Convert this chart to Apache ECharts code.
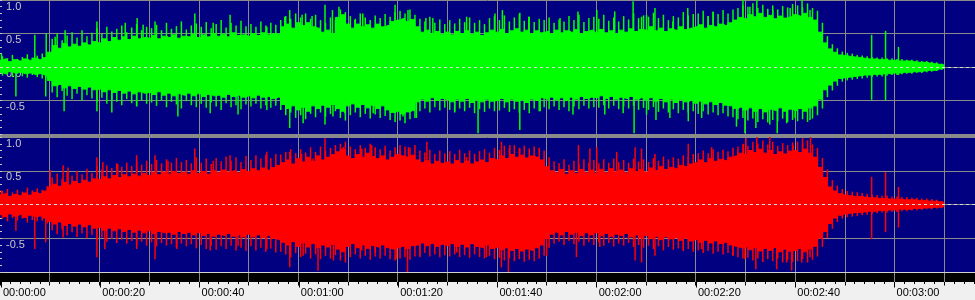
<!DOCTYPE html>
<html>
<head>
<meta charset="utf-8">
<script src="https://cdn.jsdelivr.net/npm/echarts@6/dist/echarts.min.js"></script>
<style>html,body{margin:0;padding:0;background:#f0f0f0;}#c{width:975px;height:300px;}</style>
</head>
<body>
<div id="c"></div>
<script>
// ---- data: dense envelope per second, t = 0..190 s ----
const greenUpper = [
0.10,0.12,0.08,0.11,0.09,0.12,0.10,0.13,0.11,0.14,
0.22,0.32,0.28,0.35,0.30,0.34,0.31,0.36,0.33,0.38,
0.36,0.42,0.38,0.44,0.40,0.45,0.41,0.46,0.42,0.44,
0.43,0.47,0.42,0.46,0.44,0.48,0.43,0.46,0.45,0.49,
0.44,0.48,0.45,0.50,0.46,0.49,0.45,0.51,0.47,0.48,
0.46,0.50,0.47,0.51,0.48,0.50,0.49,0.60,0.64,0.58,
0.66,0.62,0.66,0.60,0.58,0.52,0.55,0.50,0.74,0.78,
0.64,0.58,0.64,0.60,0.63,0.58,0.64,0.60,0.62,0.68,
0.70,0.72,0.68,0.71,0.60,0.52,0.55,0.50,0.53,0.49,
0.52,0.48,0.53,0.50,0.54,0.49,0.52,0.47,0.51,0.55,
0.52,0.56,0.50,0.54,0.57,0.52,0.55,0.50,0.54,0.51,
0.53,0.50,0.55,0.51,0.54,0.52,0.56,0.50,0.53,0.55,
0.52,0.56,0.51,0.54,0.50,0.55,0.52,0.57,0.53,0.56,
0.55,0.60,0.54,0.58,0.53,0.57,0.55,0.60,0.56,0.58,
0.60,0.63,0.58,0.62,0.60,0.64,0.62,0.66,0.70,0.74,
0.72,0.78,0.75,0.80,0.74,0.77,0.72,0.76,0.73,0.75,
0.78,0.76,0.80,0.74,0.70,0.52,0.36,0.27,0.22,0.18,
0.17,0.16,0.15,0.14,0.13,0.12,0.12,0.11,0.11,0.10,
0.10,0.09,0.09,0.09,0.08,0.07,0.07,0.06,0.05,0.04,
0.03];
const greenLower = [
-0.08,-0.10,-0.07,-0.09,-0.08,-0.10,-0.09,-0.11,-0.10,-0.12,
-0.20,-0.28,-0.26,-0.31,-0.28,-0.32,-0.29,-0.33,-0.30,-0.34,
-0.33,-0.37,-0.34,-0.38,-0.35,-0.39,-0.36,-0.40,-0.37,-0.39,
-0.38,-0.41,-0.37,-0.42,-0.39,-0.43,-0.40,-0.42,-0.39,-0.43,
-0.40,-0.44,-0.41,-0.43,-0.42,-0.45,-0.41,-0.44,-0.42,-0.45,
-0.43,-0.46,-0.42,-0.45,-0.44,-0.47,-0.45,-0.56,-0.62,-0.58,
-0.64,-0.60,-0.66,-0.58,-0.62,-0.57,-0.60,-0.56,-0.62,-0.66,
-0.58,-0.55,-0.60,-0.56,-0.61,-0.57,-0.62,-0.58,-0.64,-0.68,
-0.66,-0.70,-0.67,-0.65,-0.52,-0.48,-0.51,-0.46,-0.50,-0.47,
-0.49,-0.52,-0.48,-0.51,-0.47,-0.53,-0.49,-0.52,-0.48,-0.51,
-0.50,-0.47,-0.52,-0.48,-0.51,-0.49,-0.53,-0.48,-0.50,-0.46,
-0.48,-0.45,-0.49,-0.46,-0.50,-0.45,-0.48,-0.44,-0.47,-0.45,
-0.46,-0.43,-0.47,-0.44,-0.48,-0.45,-0.47,-0.44,-0.48,-0.46,
-0.49,-0.46,-0.51,-0.47,-0.52,-0.48,-0.53,-0.49,-0.52,-0.50,
-0.54,-0.51,-0.55,-0.52,-0.56,-0.53,-0.57,-0.58,-0.62,-0.60,
-0.64,-0.61,-0.66,-0.62,-0.67,-0.63,-0.65,-0.61,-0.66,-0.63,
-0.65,-0.62,-0.66,-0.61,-0.58,-0.48,-0.34,-0.27,-0.21,-0.17,
-0.16,-0.15,-0.14,-0.13,-0.12,-0.12,-0.11,-0.11,-0.10,-0.10,
-0.09,-0.09,-0.08,-0.08,-0.07,-0.07,-0.06,-0.05,-0.05,-0.03,
-0.02];
const redUpper = [
0.14,0.16,0.12,0.15,0.13,0.17,0.14,0.18,0.16,0.20,
0.26,0.30,0.27,0.33,0.29,0.34,0.31,0.36,0.33,0.38,
0.37,0.41,0.38,0.43,0.40,0.44,0.41,0.45,0.42,0.46,
0.43,0.47,0.44,0.48,0.45,0.49,0.46,0.48,0.45,0.50,
0.46,0.49,0.45,0.50,0.47,0.51,0.48,0.50,0.47,0.52,
0.49,0.53,0.50,0.54,0.51,0.55,0.58,0.62,0.66,0.60,
0.68,0.63,0.70,0.64,0.72,0.66,0.70,0.74,0.78,0.82,
0.72,0.68,0.74,0.70,0.76,0.71,0.68,0.72,0.66,0.70,
0.74,0.72,0.70,0.73,0.66,0.62,0.65,0.60,0.64,0.61,
0.63,0.60,0.65,0.61,0.64,0.60,0.63,0.66,0.62,0.68,
0.66,0.72,0.68,0.74,0.70,0.73,0.69,0.72,0.70,0.66,
0.56,0.50,0.47,0.52,0.45,0.50,0.46,0.52,0.47,0.51,
0.46,0.52,0.47,0.53,0.48,0.51,0.47,0.53,0.49,0.52,
0.48,0.54,0.50,0.56,0.52,0.55,0.53,0.58,0.56,0.60,
0.62,0.66,0.62,0.68,0.64,0.67,0.65,0.70,0.72,0.76,
0.74,0.80,0.77,0.82,0.76,0.80,0.74,0.78,0.75,0.79,
0.80,0.77,0.82,0.76,0.70,0.55,0.40,0.26,0.20,0.16,
0.14,0.13,0.12,0.12,0.11,0.10,0.10,0.09,0.09,0.08,
0.08,0.08,0.07,0.07,0.07,0.06,0.06,0.05,0.05,0.04,
0.03];
const redLower = [
-0.15,-0.18,-0.14,-0.17,-0.15,-0.19,-0.16,-0.18,-0.17,-0.20,
-0.25,-0.29,-0.26,-0.31,-0.28,-0.32,-0.29,-0.33,-0.30,-0.35,
-0.34,-0.38,-0.35,-0.39,-0.36,-0.40,-0.37,-0.41,-0.38,-0.42,
-0.39,-0.43,-0.40,-0.42,-0.41,-0.44,-0.40,-0.43,-0.41,-0.45,
-0.42,-0.46,-0.43,-0.47,-0.44,-0.46,-0.43,-0.47,-0.45,-0.48,
-0.44,-0.48,-0.45,-0.49,-0.46,-0.50,-0.52,-0.56,-0.60,-0.55,
-0.62,-0.57,-0.63,-0.58,-0.64,-0.60,-0.63,-0.59,-0.66,-0.70,
-0.62,-0.58,-0.64,-0.60,-0.65,-0.61,-0.63,-0.60,-0.64,-0.66,
-0.64,-0.62,-0.65,-0.61,-0.60,-0.57,-0.61,-0.58,-0.62,-0.59,
-0.61,-0.58,-0.62,-0.59,-0.63,-0.58,-0.62,-0.64,-0.60,-0.65,
-0.63,-0.67,-0.64,-0.68,-0.65,-0.69,-0.66,-0.68,-0.64,-0.60,
-0.50,-0.44,-0.41,-0.45,-0.40,-0.44,-0.41,-0.46,-0.42,-0.45,
-0.42,-0.46,-0.43,-0.47,-0.44,-0.46,-0.43,-0.48,-0.45,-0.49,
-0.46,-0.50,-0.47,-0.52,-0.48,-0.51,-0.49,-0.53,-0.50,-0.54,
-0.52,-0.56,-0.53,-0.57,-0.54,-0.58,-0.56,-0.60,-0.62,-0.64,
-0.63,-0.67,-0.64,-0.69,-0.65,-0.68,-0.64,-0.70,-0.66,-0.69,
-0.68,-0.65,-0.70,-0.66,-0.62,-0.50,-0.40,-0.28,-0.20,-0.16,
-0.14,-0.13,-0.12,-0.12,-0.11,-0.10,-0.10,-0.09,-0.09,-0.08,
-0.08,-0.07,-0.07,-0.07,-0.06,-0.06,-0.05,-0.05,-0.04,-0.04,
-0.03];
// per-second fringe peaks, at t = 0.5 .. 189.5 s
const greenFringeUp = [
0.16,0.13,0.18,0.12,0.15,0.19,0.14,0.17,0.20,0.18,
0.42,0.50,0.40,0.47,0.52,0.44,0.55,0.46,0.51,0.58,
0.50,0.60,0.53,0.57,0.62,0.52,0.59,0.64,0.55,0.60,
0.58,0.63,0.55,0.66,0.57,0.61,0.68,0.56,0.62,0.65,
0.60,0.67,0.58,0.64,0.70,0.59,0.66,0.62,0.69,0.61,
0.64,0.60,0.68,0.62,0.66,0.63,0.70,0.76,0.72,0.80,
0.74,0.80,0.72,0.78,0.70,0.66,0.74,0.70,0.86,0.82,
0.76,0.72,0.80,0.74,0.70,0.77,0.73,0.79,0.75,0.82,
0.84,0.80,0.86,0.78,0.72,0.68,0.75,0.66,0.71,0.64,
0.70,0.65,0.72,0.67,0.74,0.66,0.70,0.64,0.73,0.76,
0.70,0.77,0.68,0.74,0.79,0.69,0.75,0.67,0.72,0.70,
0.74,0.66,0.71,0.68,0.76,0.70,0.78,0.67,0.73,0.75,
0.72,0.78,0.69,0.74,0.68,0.76,0.71,0.80,0.73,0.77,
0.75,0.81,0.73,0.78,0.70,0.76,0.74,0.82,0.77,0.79,
0.80,0.84,0.76,0.82,0.79,0.85,0.80,0.86,0.88,0.92,
0.90,0.95,0.88,0.93,0.87,0.92,0.86,0.91,0.89,0.94,
0.92,0.89,0.95,0.88,0.84,0.66,0.46,0.34,0.28,0.23,
0.21,0.20,0.18,0.17,0.16,0.15,0.14,0.14,0.13,0.13,
0.12,0.12,0.11,0.11,0.10,0.09,0.09,0.08,0.07,0.05];
const greenFringeDown = [
-0.13,-0.11,-0.15,-0.10,-0.14,-0.16,-0.12,-0.15,-0.17,-0.16,
-0.38,-0.45,-0.36,-0.43,-0.48,-0.40,-0.50,-0.42,-0.47,-0.52,
-0.46,-0.55,-0.49,-0.52,-0.57,-0.48,-0.54,-0.58,-0.50,-0.55,
-0.53,-0.58,-0.50,-0.60,-0.52,-0.56,-0.62,-0.51,-0.57,-0.60,
-0.55,-0.61,-0.53,-0.59,-0.64,-0.54,-0.60,-0.57,-0.63,-0.56,
-0.59,-0.55,-0.62,-0.57,-0.61,-0.58,-0.64,-0.72,-0.68,-0.76,
-0.72,-0.78,-0.70,-0.75,-0.68,-0.74,-0.70,-0.66,-0.76,-0.80,
-0.72,-0.68,-0.75,-0.70,-0.77,-0.71,-0.76,-0.73,-0.79,-0.82,
-0.80,-0.84,-0.78,-0.76,-0.66,-0.62,-0.68,-0.60,-0.65,-0.61,
-0.64,-0.68,-0.62,-0.66,-0.61,-0.69,-0.63,-0.67,-0.62,-0.66,
-0.65,-0.61,-0.67,-0.63,-0.68,-0.64,-0.69,-0.62,-0.66,-0.60,
-0.63,-0.59,-0.64,-0.60,-0.66,-0.59,-0.63,-0.58,-0.62,-0.60,
-0.61,-0.57,-0.62,-0.58,-0.63,-0.59,-0.62,-0.58,-0.64,-0.61,
-0.64,-0.60,-0.67,-0.62,-0.68,-0.63,-0.69,-0.64,-0.68,-0.66,
-0.70,-0.66,-0.71,-0.68,-0.72,-0.69,-0.74,-0.75,-0.78,-0.76,
-0.80,-0.77,-0.82,-0.78,-0.83,-0.79,-0.81,-0.77,-0.82,-0.79,
-0.81,-0.78,-0.82,-0.77,-0.72,-0.62,-0.45,-0.35,-0.28,-0.22,
-0.20,-0.19,-0.18,-0.17,-0.16,-0.15,-0.14,-0.14,-0.13,-0.12,
-0.12,-0.11,-0.10,-0.10,-0.09,-0.09,-0.08,-0.07,-0.06,-0.04];
const redFringeUp = [
0.20,0.23,0.18,0.22,0.19,0.25,0.21,0.24,0.22,0.27,
0.40,0.46,0.38,0.48,0.43,0.50,0.45,0.53,0.47,0.56,
0.52,0.58,0.54,0.61,0.56,0.62,0.57,0.64,0.59,0.65,
0.60,0.66,0.61,0.67,0.62,0.69,0.63,0.66,0.61,0.70,
0.62,0.68,0.60,0.69,0.64,0.71,0.65,0.70,0.63,0.72,
0.66,0.73,0.68,0.74,0.69,0.75,0.74,0.78,0.82,0.76,
0.82,0.77,0.85,0.78,0.86,0.80,0.84,0.88,0.90,0.93,
0.86,0.82,0.88,0.84,0.90,0.85,0.82,0.87,0.80,0.85,
0.88,0.86,0.84,0.88,0.80,0.77,0.81,0.75,0.80,0.76,
0.79,0.75,0.81,0.76,0.80,0.75,0.79,0.82,0.77,0.84,
0.81,0.87,0.83,0.88,0.84,0.87,0.83,0.86,0.84,0.80,
0.70,0.64,0.61,0.67,0.59,0.65,0.60,0.67,0.62,0.66,
0.61,0.67,0.62,0.68,0.63,0.66,0.62,0.68,0.64,0.67,
0.63,0.69,0.65,0.71,0.67,0.70,0.68,0.73,0.71,0.75,
0.76,0.80,0.76,0.82,0.78,0.81,0.79,0.84,0.86,0.89,
0.87,0.93,0.90,0.95,0.89,0.93,0.87,0.91,0.88,0.92,
0.93,0.90,0.95,0.89,0.84,0.69,0.52,0.36,0.28,0.23,
0.20,0.19,0.18,0.17,0.16,0.15,0.14,0.13,0.13,0.12,
0.12,0.11,0.11,0.10,0.10,0.09,0.09,0.08,0.07,0.05];
const redFringeDown = [
-0.21,-0.25,-0.20,-0.24,-0.21,-0.27,-0.23,-0.25,-0.24,-0.28,
-0.38,-0.44,-0.37,-0.46,-0.41,-0.48,-0.43,-0.50,-0.45,-0.53,
-0.49,-0.55,-0.51,-0.57,-0.52,-0.58,-0.54,-0.60,-0.55,-0.61,
-0.56,-0.62,-0.57,-0.61,-0.59,-0.64,-0.58,-0.62,-0.59,-0.65,
-0.60,-0.66,-0.61,-0.67,-0.62,-0.66,-0.61,-0.68,-0.64,-0.69,
-0.62,-0.68,-0.64,-0.70,-0.65,-0.71,-0.70,-0.74,-0.78,-0.72,
-0.78,-0.73,-0.80,-0.74,-0.81,-0.76,-0.80,-0.75,-0.83,-0.86,
-0.78,-0.74,-0.80,-0.76,-0.82,-0.77,-0.80,-0.76,-0.81,-0.83,
-0.80,-0.78,-0.82,-0.77,-0.76,-0.72,-0.77,-0.74,-0.78,-0.75,
-0.77,-0.74,-0.78,-0.75,-0.79,-0.74,-0.78,-0.80,-0.76,-0.81,
-0.79,-0.83,-0.80,-0.84,-0.81,-0.85,-0.82,-0.84,-0.80,-0.76,
-0.64,-0.58,-0.55,-0.60,-0.54,-0.59,-0.55,-0.61,-0.56,-0.60,
-0.56,-0.61,-0.57,-0.62,-0.58,-0.61,-0.57,-0.63,-0.60,-0.64,
-0.61,-0.66,-0.62,-0.68,-0.63,-0.67,-0.65,-0.69,-0.66,-0.70,
-0.68,-0.72,-0.69,-0.73,-0.70,-0.74,-0.72,-0.76,-0.78,-0.80,
-0.79,-0.83,-0.80,-0.85,-0.81,-0.84,-0.80,-0.86,-0.82,-0.85,
-0.84,-0.81,-0.86,-0.82,-0.77,-0.63,-0.50,-0.36,-0.26,-0.21,
-0.19,-0.18,-0.17,-0.16,-0.15,-0.14,-0.13,-0.12,-0.12,-0.11,
-0.11,-0.10,-0.10,-0.09,-0.09,-0.08,-0.07,-0.07,-0.06,-0.05];
// isolated tall peaks [time s, value]
const greenPeaks = [
[0.3,0.20],[7.0,0.48],[9.3,0.50],[11.1,0.45],[13.1,0.55],[19.5,0.68],[25.2,0.66],[27.6,0.73],[28.8,0.63],[31.2,0.68],
[39.2,0.80],[42.9,0.66],[46.3,0.78],[53.7,0.60],[57.3,0.75],[58.3,0.85],[60.8,0.78],[62.8,0.76],[65.4,0.93],[66.9,0.85],
[68.2,0.90],[71.4,0.70],[73.0,0.80],[79.5,0.93],[82.1,0.85],[85.7,0.73],[87.1,0.73],[93.9,0.75],[99.6,0.80],[101.1,0.85],
[104.6,0.81],[106.4,0.75],[112.7,0.73],[116.3,0.83],[120.1,0.85],[123.7,0.83],[127.4,0.98],[129.1,0.75],[130.1,0.78],[131.8,0.88],
[135.4,0.68],[138.4,0.88],[142.5,0.76],[143.5,0.83],[146.5,0.66],[149.5,1.00],[150.9,0.90],[152.3,1.00],[155.5,0.85],[159.0,0.88],
[161.4,1.00],[163.0,0.85],[175.4,0.48],[178.2,0.54],[180.8,0.30],
[3.2,-0.44],[9.2,-0.44],[12.9,-0.66],[19.5,-0.66],[22.5,-0.68],[27.5,-0.59],[35.8,-0.74],[42.3,-0.69],[47.9,-0.71],[53.7,-0.64],
[58.3,-0.91],[61.0,-0.84],[65.4,-0.86],[67.0,-0.74],[69.4,-0.69],[75.1,-0.69],[81.1,-0.74],[83.8,-0.76],[91.5,-0.66],[96.2,-0.99],
[104.6,-0.94],[108.7,-0.66],[115.3,-0.71],[121.7,-0.71],[125.4,-0.69],[127.6,-0.99],[130.1,-0.71],[132.0,-0.79],[134.8,-0.76],[138.5,-0.81],
[141.2,-0.76],[148.2,-0.89],[149.9,-0.99],[152.1,-0.91],[154.9,-0.86],[156.4,-0.99],[158.3,-0.84],[160.0,-0.76],[163.0,-0.79],
[175.4,-0.49],[178.2,-0.50],[180.8,-0.12]];
const redPeaks = [
[0.3,0.21],[10.1,0.51],[12.7,0.58],[13.7,0.55],[19.5,0.70],[20.7,0.63],[23.7,0.60],[27.5,0.73],[31.2,0.73],[33.8,0.65],
[39.2,0.83],[42.9,0.65],[46.3,0.73],[53.7,0.78],[58.3,0.78],[60.7,0.75],[63.0,0.68],[65.4,0.98],[69.1,0.85],[72.8,0.83],
[74.8,0.88],[80.5,0.80],[82.2,0.85],[85.9,0.93],[93.9,0.70],[100.9,0.93],[102.6,0.88],[104.6,0.83],[116.4,0.88],[118.7,0.83],
[120.1,0.85],[124.1,0.78],[127.8,0.85],[129.1,0.83],[131.8,0.75],[138.5,0.90],[143.2,0.85],[149.6,0.90],[150.1,0.98],[152.3,1.00],
[154.9,1.00],[159.6,0.88],[161.5,0.98],[163.1,1.00],[175.4,0.41],[178.2,0.48],[180.8,0.26],
[3.2,-0.39],[7.0,-0.66],[9.2,-0.56],[12.7,-0.49],[19.5,-0.78],[21.1,-0.66],[27.5,-0.66],[31.2,-0.81],[35.6,-0.66],[42.3,-0.68],
[47.9,-0.61],[53.7,-0.66],[58.3,-0.93],[61.0,-0.76],[64.0,-0.98],[67.1,-0.83],[69.4,-0.68],[72.8,-0.68],[75.5,-0.71],[79.8,-0.81],
[82.0,-1.00],[84.5,-0.78],[91.9,-0.71],[97.9,-0.78],[100.9,-0.93],[102.3,-1.00],[110.0,-0.76],[116.0,-0.78],[120.7,-0.63],[127.8,-0.83],
[129.1,-0.86],[131.8,-0.76],[137.5,-0.68],[141.2,-0.66],[147.5,-0.76],[149.9,-0.81],[152.1,-0.96],[156.3,-0.96],[158.3,-0.86],[159.3,-0.98],
[161.3,-0.86],[163.0,-0.78],[175.4,-0.51],[178.2,-0.41],[180.8,-0.34]];
const yTickLabels = {'1':'1.0','0.5':'0.5','0':'0.0','-0.5':'-0.5'};
const xTickLabels = ['00:00:00','00:00:20','00:00:40','00:01:00','00:01:20','00:01:40','00:02:00','00:02:20','00:02:40','00:03:00'];

// ---- chart ----
const T_MAX = 196.2;
const NAVY = '#000080', GRID = '#8a8a8a', LABEL = '#c8c8c8';
const FONT = 'Liberation Sans';
const pairs = a => a.map((v, i) => [i, v]);
const halfPairs = a => a.map((v, i) => [i + 0.5, v]);

function waveX(gi) {
  return { type: 'value', gridIndex: gi, min: 0, max: T_MAX, interval: 10,
    axisLine: {show: false}, axisTick: {show: false}, axisLabel: {show: false},
    splitLine: {show: true, showMinLine: false, showMaxLine: false, lineStyle: {color: GRID, width: 1}} };
}
function waveY(gi, lineColors) {
  return { type: 'value', gridIndex: gi, min: -1, max: 1, interval: 0.5,
    axisLine: {show: false},
    axisTick: {show: true, inside: true, length: 2, lineStyle: {color: LABEL}},
    minorTick: {show: true, splitNumber: 5, length: 2, lineStyle: {color: LABEL}},
    axisLabel: {show: true, inside: true, margin: 6, color: LABEL, fontSize: 11, fontFamily: FONT,
      verticalAlign: 'top', padding: [1, 0, 0, 0],
      formatter: v => { const k = String(Math.round(v * 10) / 10); return yTickLabels[k] || ''; } },
    splitLine: {show: true, lineStyle: {color: lineColors, width: 1}} };
}
function channel(gi, upper, lower, fringeUp, fringeDown, peaks, color) {
  const base = {type: 'line', xAxisIndex: gi, yAxisIndex: gi, step: 'middle', showSymbol: false,
    symbol: 'none', lineStyle: {color: color, width: 1}, areaStyle: {color: color, opacity: 1},
    itemStyle: {color: color}, z: 2, silent: true};
  const bar = {type: 'bar', xAxisIndex: gi, yAxisIndex: gi, barWidth: 1.5, itemStyle: {color: color},
    z: 3, silent: true, barGap: '-100%'};
  return [
    Object.assign({}, base, {data: pairs(upper)}),
    Object.assign({}, base, {data: pairs(lower)}),
    Object.assign({}, bar, {data: halfPairs(fringeUp).concat(halfPairs(fringeDown))}),
    Object.assign({}, bar, {data: peaks,
      markLine: {silent: true, symbol: ['none', 'none'], label: {show: false},
        lineStyle: {color: '#d8d8d8', type: [3, 3], width: 1}, data: [{yAxis: 0}]}})
  ];
}

const chart = echarts.init(document.getElementById('c'), null, {renderer: 'canvas'});
chart.setOption({
  animation: false,
  backgroundColor: '#f0f0f0',
  grid: [
    {left: 0, right: 0, top: 0, height: 134, show: true, backgroundColor: NAVY, borderWidth: 0},
    {left: 0, right: 0, top: 137, height: 135, show: true, backgroundColor: NAVY, borderWidth: 0},
    {left: 0, right: 0, top: 273, height: 9, show: true, backgroundColor: '#000000', borderWidth: 0},
    {left: 0, right: 0, top: 273, height: 9, show: false}
  ],
  xAxis: [
    waveX(0), waveX(1),
    {type: 'value', gridIndex: 2, min: 0, max: T_MAX, interval: 10, position: 'bottom',
      axisLine: {show: false},
      axisTick: {show: true, length: 3.5, lineStyle: {color: '#000'}},
      minorTick: {show: true, splitNumber: 5, length: 2, lineStyle: {color: '#000'}},
      axisLabel: {show: false},
      splitLine: {show: true, showMinLine: false, showMaxLine: false, lineStyle: {color: GRID}}},
    {type: 'value', gridIndex: 3, min: 0, max: T_MAX, interval: 20, position: 'bottom',
      axisLine: {show: false},
      axisTick: {show: true, length: 5.5, lineStyle: {color: '#000'}},
      axisLabel: {show: true, margin: 5, color: '#000', fontSize: 11, fontFamily: FONT, align: 'left',
        padding: [0, 0, 0, 2], showMaxLabel: false,
        formatter: v => { const k = Math.round(v / 20); return Math.abs(v - k * 20) < 1e-6 ? (xTickLabels[k] || '') : ''; }},
      splitLine: {show: false}}
  ],
  yAxis: [
    waveY(0, [GRID]),
    waveY(1, ['#d0d0d0', GRID, GRID, GRID, GRID]),
    {type: 'value', gridIndex: 2, show: false, min: 0, max: 1},
    {type: 'value', gridIndex: 3, show: false, min: 0, max: 1}
  ],
  graphic: [
    {type: 'rect', shape: {x: 0, y: 134, width: 975, height: 3}, style: {fill: GRID}, silent: true}
  ],
  series: [].concat(
    channel(0, greenUpper, greenLower, greenFringeUp, greenFringeDown, greenPeaks, '#00ff00'),
    channel(1, redUpper, redLower, redFringeUp, redFringeDown, redPeaks, '#ff0000')
  )
});
</script>
</body>
</html>
